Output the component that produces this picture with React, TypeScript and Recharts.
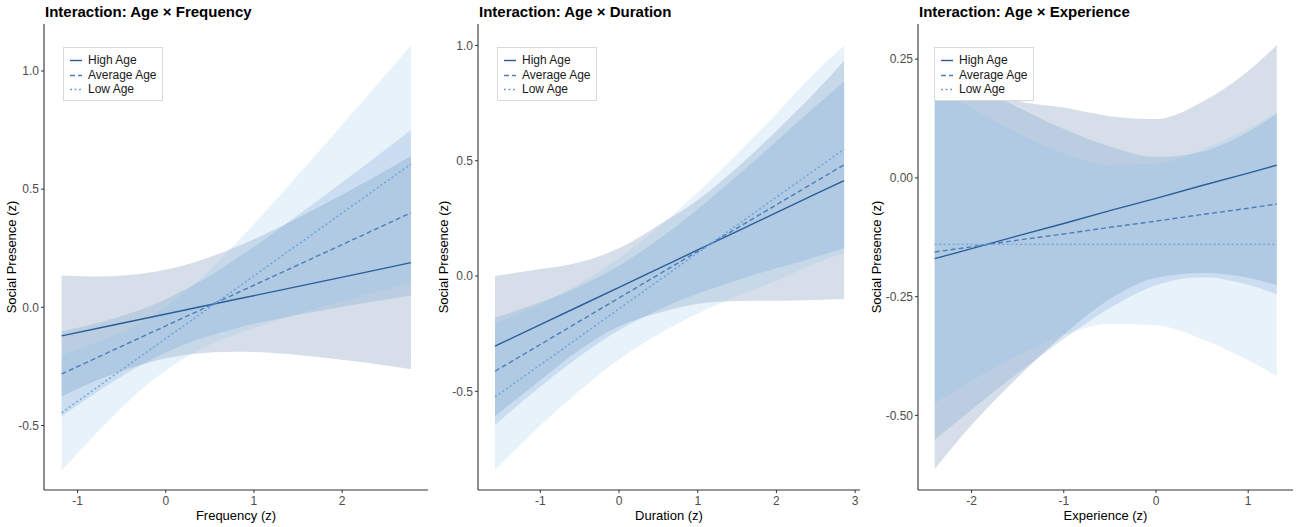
import React from "react";
import { ComposedChart, Area, Line, XAxis, YAxis } from "recharts";

// Frequency panel
const freqX = [-1.18, -0.7, -0.2, 0.3, 0.8, 1.3, 1.8, 2.3, 2.78];
const freqHigh = [-0.121, -0.083, -0.044, -0.005, 0.034, 0.073, 0.112, 0.151, 0.189];
const freqAvg = [-0.282, -0.199, -0.113, -0.027, 0.059, 0.145, 0.231, 0.317, 0.4];
const freqLow = [-0.446, -0.318, -0.185, -0.053, 0.08, 0.213, 0.346, 0.479, 0.606];
const freqHighLo = [-0.377, -0.297, -0.234, -0.198, -0.188, -0.195, -0.213, -0.236, -0.262];
const freqHighHi = [0.135, 0.131, 0.146, 0.188, 0.256, 0.341, 0.437, 0.538, 0.64];
const freqAvgLo = [-0.462, -0.339, -0.228, -0.145, -0.088, -0.046, -0.011, 0.021, 0.05];
const freqAvgHi = [-0.102, -0.059, 0.002, 0.091, 0.206, 0.336, 0.473, 0.613, 0.75];
const freqLowLo = [-0.691, -0.499, -0.323, -0.196, -0.113, -0.05, 0.005, 0.057, 0.103];
const freqLowHi = [-0.201, -0.137, -0.047, 0.09, 0.273, 0.476, 0.687, 0.901, 1.109];

// Duration panel
const durX = [-1.576, -1, -0.5, 0, 0.5, 1, 1.5, 2, 2.5, 2.86];
const durHigh = [-0.304, -0.211, -0.13, -0.049, 0.032, 0.113, 0.194, 0.275, 0.356, 0.414];
const durAvg = [-0.413, -0.297, -0.196, -0.095, 0.006, 0.107, 0.208, 0.309, 0.41, 0.482];
const durLow = [-0.524, -0.385, -0.264, -0.142, -0.021, 0.1, 0.221, 0.342, 0.463, 0.55];
const durHighLo = [-0.608, -0.452, -0.32, -0.218, -0.16, -0.12, -0.108, -0.107, -0.104, -0.1];
const durHighHi = [0.0, 0.03, 0.06, 0.12, 0.22, 0.33, 0.47, 0.63, 0.8, 0.934];
const durAvgLo = [-0.646, -0.48, -0.348, -0.235, -0.146, -0.076, -0.018, 0.034, 0.083, 0.12];
const durAvgHi = [-0.18, -0.114, -0.044, 0.045, 0.158, 0.29, 0.434, 0.584, 0.737, 0.844];
const durLowLo = [-0.84, -0.648, -0.496, -0.362, -0.253, -0.163, -0.087, -0.02, 0.055, 0.1];
const durLowHi = [-0.208, -0.122, -0.032, 0.078, 0.211, 0.363, 0.529, 0.704, 0.885, 1.0];

// Experience panel
const expX = [-2.4, -2, -1.5, -1, -0.5, 0, 0.5, 1, 1.31];
const expHigh = [-0.17, -0.149, -0.122, -0.096, -0.069, -0.043, -0.016, 0.01, 0.027];
const expAvg = [-0.156, -0.145, -0.131, -0.118, -0.104, -0.091, -0.077, -0.064, -0.055];
const expLow = [-0.14, -0.14, -0.14, -0.14, -0.14, -0.14, -0.14, -0.14, -0.14];
const expHighLo = [-0.613, -0.52, -0.42, -0.33, -0.255, -0.21, -0.2, -0.21, -0.226];
const expHighHi = [0.25, 0.205, 0.163, 0.148, 0.13, 0.124, 0.16, 0.225, 0.28];
const expAvgLo = [-0.551, -0.488, -0.411, -0.339, -0.274, -0.226, -0.209, -0.225, -0.245];
const expAvgHi = [0.239, 0.198, 0.149, 0.103, 0.066, 0.044, 0.055, 0.097, 0.135];
const expLowLo = [-0.474, -0.427, -0.374, -0.331, -0.307, -0.31, -0.339, -0.384, -0.417];
const expLowHi = [0.194, 0.147, 0.094, 0.051, 0.027, 0.03, 0.059, 0.104, 0.137];

const seriesNames = ["High Age", "Average Age", "Low Age"];
const lineColors = ["#2c5d99", "#4a7dba", "#6aa2da"];
const bandColors = ["#325f91", "#4a86c5", "#8cbeeb"];
const dashes = ["", "5 3", "2 2.5"];

const FONT = "Arial, 'Liberation Sans', sans-serif";

function buildRows(x, hi, av, lo, hiLo, hiHi, avLo, avHi, loLo, loHi) {
  return x.map((v, i) => ({
    x: v,
    high: hi[i],
    avg: av[i],
    low: lo[i],
    highBand: [hiLo[i], hiHi[i]],
    avgBand: [avLo[i], avHi[i]],
    lowBand: [loLo[i], loHi[i]],
  }));
}

const freqData = buildRows(freqX, freqHigh, freqAvg, freqLow, freqHighLo, freqHighHi, freqAvgLo, freqAvgHi, freqLowLo, freqLowHi);
const durData = buildRows(durX, durHigh, durAvg, durLow, durHighLo, durHighHi, durAvgLo, durAvgHi, durLowLo, durLowHi);
const expData = buildRows(expX, expHigh, expAvg, expLow, expHighLo, expHighHi, expAvgLo, expAvgHi, expLowLo, expLowHi);

function LegendBox({ left }: { left: number }) {
  return (
    <div
      style={{
        position: "absolute", left, top: 47, width: 98, height: 52,
        border: "1px solid #d9d9d9", background: "#fff", fontFamily: FONT, fontSize: 12, color: "#1a1a1a",
      }}
    >
      {seriesNames.map((n, i) => (
        <div key={n} style={{ position: "absolute", left: 0, top: 5 + i * 14.6, height: 15, lineHeight: "15px", whiteSpace: "nowrap" }}>
          <svg width={22} height={15} style={{ position: "absolute", left: 0, top: 0 }}>
            <line x1={6} x2={18} y1={7.5} y2={7.5} stroke={lineColors[i]} strokeWidth={1.4} strokeDasharray={dashes[i] || undefined} />
          </svg>
          <span style={{ position: "absolute", left: 24 }}>{n}</span>
        </div>
      ))}
    </div>
  );
}

function Panel({ left, width, plotLeft, plotRight, legendLeft, title, xLabel, yLabelX, data, xDomain, xTicks, yDomain, yTicks, yFmt }) {
  const yAxisW = plotLeft - left;
  const rightM = left + width - plotRight;
  return (
    <div style={{ position: "absolute", left, top: 0, width, height: 527 }}>
      <ComposedChart width={width} height={527} data={data} margin={{ top: 24, right: rightM, bottom: 0, left: 0 }}>
        <XAxis
          dataKey="x" type="number" domain={xDomain} ticks={xTicks} allowDataOverflow
          height={37} tickSize={3} tickMargin={3}
          axisLine={{ stroke: "#333", strokeWidth: 1.1 }} tickLine={{ stroke: "#333" }}
          tick={{ fill: "#4d4d4d", fontSize: 12, fontFamily: FONT }}
        />
        <YAxis
          type="number" domain={yDomain} ticks={yTicks} allowDataOverflow width={yAxisW}
          tickSize={3} tickMargin={2} tickFormatter={yFmt}
          axisLine={{ stroke: "#333", strokeWidth: 1.1 }} tickLine={{ stroke: "#333" }}
          tick={{ fill: "#4d4d4d", fontSize: 12, fontFamily: FONT }}
        />
        <Area dataKey="highBand" type="monotone" stroke="none" fill={bandColors[0]} fillOpacity={0.2} isAnimationActive={false} />
        <Area dataKey="avgBand" type="monotone" stroke="none" fill={bandColors[1]} fillOpacity={0.2} isAnimationActive={false} />
        <Area dataKey="lowBand" type="monotone" stroke="none" fill={bandColors[2]} fillOpacity={0.2} isAnimationActive={false} />
        <Line dataKey="high" type="linear" stroke={lineColors[0]} strokeWidth={1.4} dot={false} activeDot={false} isAnimationActive={false} />
        <Line dataKey="avg" type="linear" stroke={lineColors[1]} strokeWidth={1.4} strokeDasharray={dashes[1]} dot={false} activeDot={false} isAnimationActive={false} />
        <Line dataKey="low" type="linear" stroke={lineColors[2]} strokeWidth={1.4} strokeDasharray={dashes[2]} dot={false} activeDot={false} isAnimationActive={false} />
      </ComposedChart>
      <LegendBox left={legendLeft - left} />
      <div style={{ position: "absolute", left: plotLeft - left + 1, top: 4, fontFamily: FONT, fontWeight: "bold", fontSize: 15, lineHeight: "15px", color: "#000", whiteSpace: "nowrap" }}>
        {title}
      </div>
      <div style={{ position: "absolute", left: plotLeft - left, width: plotRight - plotLeft, top: 508, textAlign: "center", fontFamily: FONT, fontSize: 13, lineHeight: "16px", color: "#000" }}>
        {xLabel}
      </div>
      <div
        style={{
          position: "absolute", left: yLabelX - left - 80, top: 249, width: 160, textAlign: "center",
          transform: "rotate(-90deg)", fontFamily: FONT, fontSize: 13, lineHeight: "16px", color: "#000", whiteSpace: "nowrap",
        }}
      >
        Social Presence (z)
      </div>
    </div>
  );
}

const fmt1 = (v: number) => v.toFixed(1);
const fmt2 = (v: number) => v.toFixed(2);

export default function App() {
  return (
    <div style={{ position: "relative", width: 1299, height: 527, background: "#fff", overflow: "hidden" }}>
      <style>{"body{margin:0}"}</style>
      <Panel
        left={0} width={435} plotLeft={44} plotRight={428} legendLeft={63}
        title="Interaction: Age × Frequency" xLabel="Frequency (z)" yLabelX={12}
        data={freqData} xDomain={[-1.38, 2.973]} xTicks={[-1, 0, 1, 2]}
        yDomain={[-0.773, 1.199]} yTicks={[-0.5, 0, 0.5, 1]} yFmt={fmt1}
      />
      <Panel
        left={432} width={436} plotLeft={478} plotRight={860} legendLeft={497}
        title="Interaction: Age × Duration" xLabel="Duration (z)" yLabelX={444}
        data={durData} xDomain={[-1.792, 3.062]} xTicks={[-1, 0, 1, 2, 3]}
        yDomain={[-0.928, 1.093]} yTicks={[-0.5, 0, 0.5, 1]} yFmt={fmt1}
      />
      <Panel
        left={866} width={433} plotLeft={918} plotRight={1293} legendLeft={934}
        title="Interaction: Age × Experience" xLabel="Experience (z)" yLabelX={877}
        data={expData} xDomain={[-2.581, 1.486]} xTicks={[-2, -1, 0, 1]}
        yDomain={[-0.657, 0.324]} yTicks={[-0.5, -0.25, 0, 0.25]} yFmt={fmt2}
      />
    </div>
  );
}
